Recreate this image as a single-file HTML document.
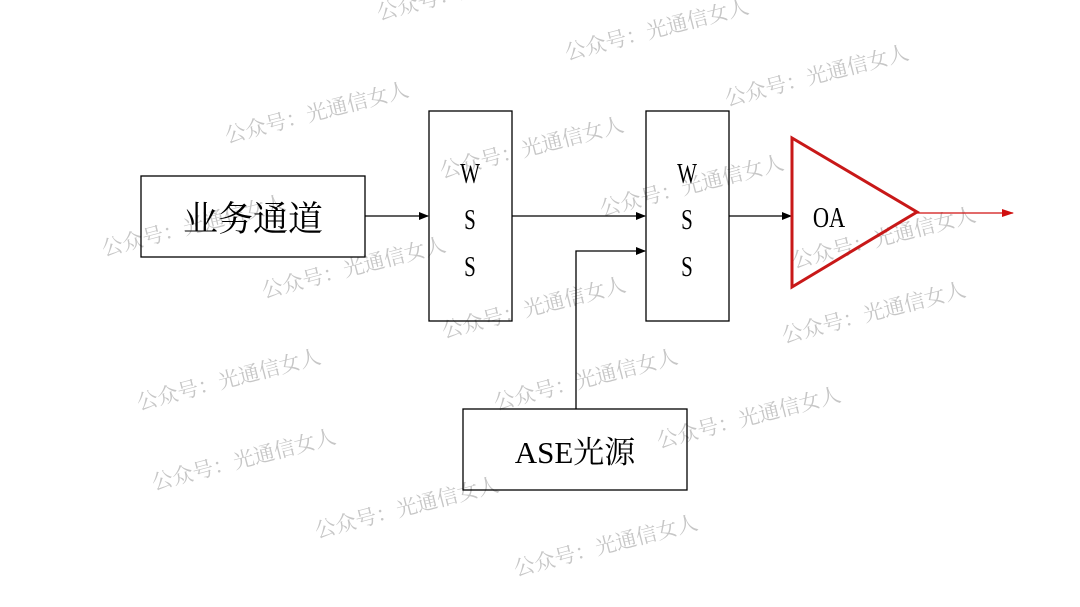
<!DOCTYPE html>
<html><head><meta charset="utf-8"><style>
html,body{margin:0;padding:0;background:#fff;}
#c{position:relative;width:1080px;height:607px;overflow:hidden;background:#fff;font-family:"Liberation Serif","Noto Serif CJK SC",serif;}
.wm{position:absolute;font-family:"Liberation Serif","Noto Serif CJK SC",serif;font-size:21px;color:#c6c6c6;white-space:nowrap;transform-origin:0 100%;transform:rotate(-14.5deg);line-height:1;}
svg{position:absolute;left:0;top:0;}
</style></head><body><div id="c">
<div class="wm" style="left:380px;top:3px">公众号：光通信女人</div>
<div class="wm" style="left:568px;top:43px">公众号：光通信女人</div>
<div class="wm" style="left:728px;top:89px">公众号：光通信女人</div>
<div class="wm" style="left:228px;top:126px">公众号：光通信女人</div>
<div class="wm" style="left:443px;top:161px">公众号：光通信女人</div>
<div class="wm" style="left:603px;top:199px">公众号：光通信女人</div>
<div class="wm" style="left:105px;top:239px">公众号：光通信女人</div>
<div class="wm" style="left:795px;top:251px">公众号：光通信女人</div>
<div class="wm" style="left:265px;top:281px">公众号：光通信女人</div>
<div class="wm" style="left:445px;top:321px">公众号：光通信女人</div>
<div class="wm" style="left:785px;top:326px">公众号：光通信女人</div>
<div class="wm" style="left:140px;top:393px">公众号：光通信女人</div>
<div class="wm" style="left:497px;top:393px">公众号：光通信女人</div>
<div class="wm" style="left:660px;top:431px">公众号：光通信女人</div>
<div class="wm" style="left:155px;top:473px">公众号：光通信女人</div>
<div class="wm" style="left:318px;top:521px">公众号：光通信女人</div>
<div class="wm" style="left:517px;top:559px">公众号：光通信女人</div>
<svg width="1080" height="607" viewBox="0 0 1080 607">
<defs>
<marker id="a" markerWidth="10" markerHeight="8" refX="9" refY="4" orient="auto" markerUnits="userSpaceOnUse"><path d="M0,0 L10,4 L0,8 z" fill="#000"/></marker>
<marker id="r" markerWidth="12" markerHeight="8" refX="11" refY="4" orient="auto" markerUnits="userSpaceOnUse"><path d="M0,0 L12,4 L0,8 z" fill="#d01010"/></marker>
</defs>
<rect x="141" y="176" width="224" height="81" fill="none" stroke="#000" stroke-width="1.3"/>
<rect x="429" y="111" width="83" height="210" fill="none" stroke="#000" stroke-width="1.3"/>
<rect x="646" y="111" width="83" height="210" fill="none" stroke="#000" stroke-width="1.3"/>
<rect x="463" y="409" width="224" height="81" fill="none" stroke="#000" stroke-width="1.3"/>
<line x1="365" y1="216" x2="428" y2="216" stroke="#000" stroke-width="1.3" marker-end="url(#a)"/>
<line x1="512" y1="216" x2="645" y2="216" stroke="#000" stroke-width="1.3" marker-end="url(#a)"/>
<polyline points="576,409 576,251 645,251" fill="none" stroke="#000" stroke-width="1.3" marker-end="url(#a)"/>
<line x1="729" y1="216" x2="791" y2="216" stroke="#000" stroke-width="1.3" marker-end="url(#a)"/>
<polygon points="792,138 792,287 917,212" fill="none" stroke="#c81818" stroke-width="3"/>
<line x1="917" y1="213" x2="1013" y2="213" stroke="#d01010" stroke-width="1.3" marker-end="url(#r)"/>
<g font-family="Liberation Serif, Noto Serif CJK SC, serif" fill="#000">
<text x="253" y="231" font-size="35" text-anchor="middle">业务通道</text>
<g transform="translate(470,0) scale(0.75,1)">
<text x="0" y="183" font-size="28" text-anchor="middle">W</text>
<text x="0" y="229" font-size="28" text-anchor="middle">S</text>
<text x="0" y="276" font-size="28" text-anchor="middle">S</text>
</g>
<g transform="translate(687,0) scale(0.75,1)">
<text x="0" y="183" font-size="28" text-anchor="middle">W</text>
<text x="0" y="229" font-size="28" text-anchor="middle">S</text>
<text x="0" y="276" font-size="28" text-anchor="middle">S</text>
</g>
<text x="575" y="463" font-size="31" text-anchor="middle">ASE光源</text>
<g transform="translate(829,0) scale(0.8,1)">
<text x="0" y="227" font-size="28" text-anchor="middle">OA</text>
</g>
</g>
</svg>
</div></body></html>
